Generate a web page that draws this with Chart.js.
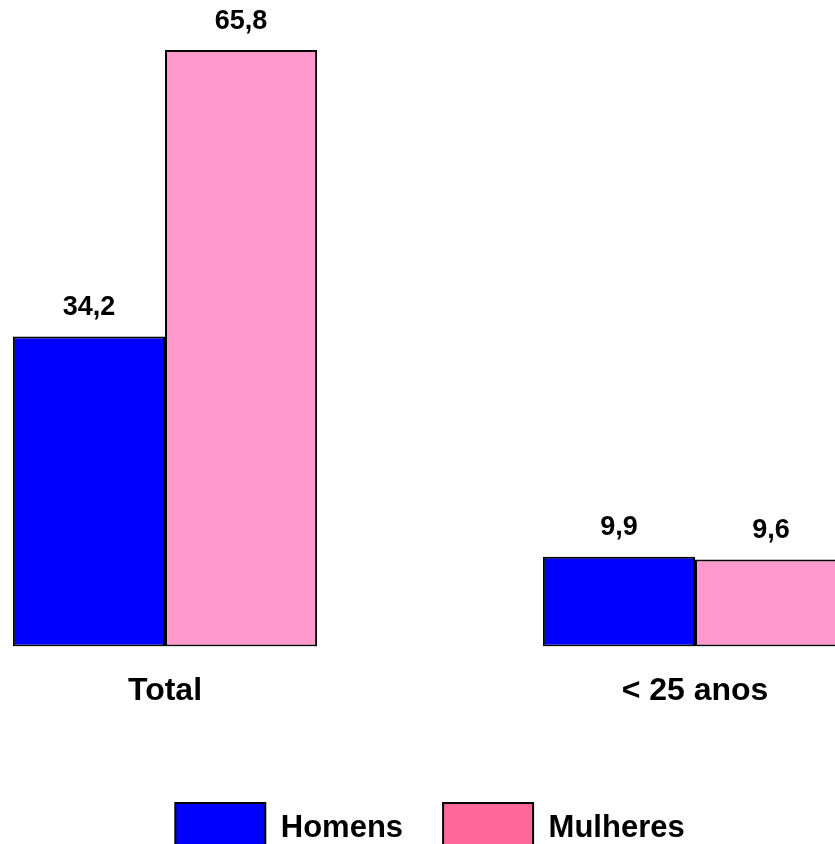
<!DOCTYPE html>
<html>
<head>
<meta charset="utf-8">
<script src="https://cdn.jsdelivr.net/npm/chart.js@4/dist/chart.umd.min.js"></script>
<style>
  html, body { margin: 0; padding: 0; background: #fff; overflow: hidden; width: 835px; height: 844px; }
  #wrap { position: absolute; left: -100px; top: 0; width: 1060px; height: 863px; }
</style>
</head>
<body>
<div id="wrap"><canvas id="chart" width="1060" height="863"></canvas></div>
<script>
const CATEGORIES = ['Total', '< 25 anos'];
const HOMENS = [34.2, 9.9];
const MULHERES = [65.8, 9.6];

const FONT = 'Arial, "Liberation Sans", sans-serif';
// the legend swatch for Mulheres is a deeper pink than its bars
const SWATCH = { Homens: '#0000ff', Mulheres: '#ff6699' };

const fmt = (v) => v.toFixed(1).replace('.', ',');

const valueLabels = {
  id: 'valueLabels',
  afterDatasetsDraw(chart) {
    const ctx = chart.ctx;
    ctx.save();
    ctx.font = `bold 27px ${FONT}`;
    ctx.fillStyle = '#000';
    ctx.textAlign = 'center';
    ctx.textBaseline = 'middle';
    chart.data.datasets.forEach((ds, di) => {
      chart.getDatasetMeta(di).data.forEach((bar, i) => {
        ctx.fillText(fmt(ds.data[i]), bar.x, bar.y - 29);
      });
    });
    ctx.restore();
  },
};

new Chart(document.getElementById('chart'), {
  type: 'bar',
  data: {
    labels: CATEGORIES,
    datasets: [
      { label: 'Homens', data: HOMENS, backgroundColor: '#0000ff' },
      { label: 'Mulheres', data: MULHERES, backgroundColor: '#ff99cc' },
    ],
  },
  options: {
    responsive: false,
    animation: false,
    devicePixelRatio: 1,
    layout: { padding: { top: 12, left: 0, right: 0, bottom: 0 } },
    datasets: { bar: {
      categoryPercentage: 0.574, barPercentage: 1,
      borderColor: '#000', borderWidth: 2, borderSkipped: false,
    } },
    plugins: {
      tooltip: { enabled: false },
      legend: {
        position: 'bottom',
        labels: {
          boxWidth: 90, boxHeight: 50, padding: 40, color: '#000',
          font: { family: FONT, size: 31, weight: 'bold' },
          generateLabels: (chart) => chart.data.datasets.map((ds, i) => ({
            text: ds.label, fillStyle: SWATCH[ds.label], strokeStyle: '#000',
            lineWidth: 2, datasetIndex: i, fontColor: '#000',
          })),
        },
      },
    },
    scales: {
      x: {
        grid: { display: false, drawTicks: false },
        border: { display: false },
        ticks: { color: '#000', padding: 25, font: { family: FONT, size: 32, weight: 'bold' } },
        afterFit: (scale) => { scale.height += 28; },
      },
      y: { display: false, min: 0, max: 70 },
    },
  },
  plugins: [valueLabels],
});
</script>
</body>
</html>
